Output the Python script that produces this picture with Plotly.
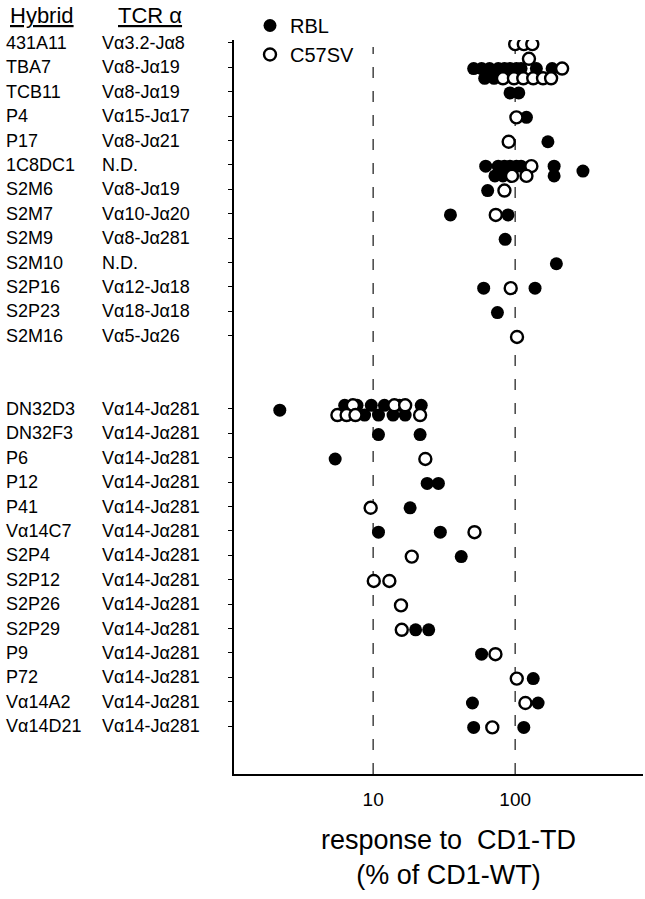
import plotly.graph_objects as go

# ---------------- data ----------------
HYBRIDS_TOP = ["431A11", "TBA7", "TCB11", "P4", "P17", "1C8DC1", "S2M6", "S2M7",
               "S2M9", "S2M10", "S2P16", "S2P23", "S2M16"]
TCR_TOP = ["Vα3.2-Jα8", "Vα8-Jα19", "Vα8-Jα19", "Vα15-Jα17", "Vα8-Jα21", "N.D.",
           "Vα8-Jα19", "Vα10-Jα20", "Vα8-Jα281", "N.D.", "Vα12-Jα18", "Vα18-Jα18",
           "Vα5-Jα26"]
HYBRIDS_BOTTOM = ["DN32D3", "DN32F3", "P6", "P12", "P41", "Vα14C7", "S2P4", "S2P12",
                  "S2P26", "S2P29", "P9", "P72", "Vα14A2", "Vα14D21"]
TCR_BOTTOM = ["Vα14-Jα281"] * 14

# (hybrid, response % of CD1-WT, lane within row: -1 upper ... +1 lower)
RBL = [
    ("TBA7", 51, 0), ("TBA7", 58, 0), ("TBA7", 66, 0), ("TBA7", 76, 0), ("TBA7", 84, 0),
    ("TBA7", 92, 0), ("TBA7", 102, 0), ("TBA7", 110, 0), ("TBA7", 141, 0), ("TBA7", 182, 0),
    ("TBA7", 61, 1), ("TBA7", 71, 1),
    ("TCB11", 92, 0), ("TCB11", 106, 0),
    ("P4", 120, 0),
    ("P17", 170, 0),
    ("1C8DC1", 62, 0), ("1C8DC1", 76, 0), ("1C8DC1", 84, 0), ("1C8DC1", 92, 0),
    ("1C8DC1", 102, 0), ("1C8DC1", 110, 0), ("1C8DC1", 188, 0), ("1C8DC1", 300, 0.5),
    ("1C8DC1", 72, 1), ("1C8DC1", 82, 1), ("1C8DC1", 188, 1),
    ("S2M6", 64, 0),
    ("S2M7", 35, 0), ("S2M7", 89, 0),
    ("S2M9", 85, 0),
    ("S2M10", 195, 0),
    ("S2P16", 60, 0), ("S2P16", 138, 0),
    ("S2P23", 75, 0),
    ("DN32D3", 2.2, 0),
    ("DN32D3", 6.3, -0.5), ("DN32D3", 7.7, -0.5), ("DN32D3", 9.7, -0.5), ("DN32D3", 12.0, -0.5),
    ("DN32D3", 15.3, -0.5), ("DN32D3", 21.8, -0.5),
    ("DN32D3", 8.7, 0.5), ("DN32D3", 10.9, 0.5), ("DN32D3", 13.8, 0.5), ("DN32D3", 16.8, 0.5),
    ("DN32F3", 10.9, 0), ("DN32F3", 21.4, 0),
    ("P6", 5.4, 0),
    ("P12", 24, 0), ("P12", 28.8, 0),
    ("P41", 18.2, 0),
    ("Vα14C7", 10.9, 0), ("Vα14C7", 29.7, 0),
    ("S2P4", 41.7, 0),
    ("S2P29", 19.9, 0), ("S2P29", 24.6, 0),
    ("P9", 58, 0),
    ("P72", 134, 0),
    ("Vα14A2", 50, 0), ("Vα14A2", 145, 0),
    ("Vα14D21", 51, 0), ("Vα14D21", 115, 0),
]

C57SV = [
    ("431A11", 100, 0), ("431A11", 115, 0), ("431A11", 132, 0),
    ("TBA7", 125, -1), ("TBA7", 214, 0),
    ("TBA7", 82, 1), ("TBA7", 98, 1), ("TBA7", 114, 1), ("TBA7", 134, 1),
    ("TBA7", 157, 1), ("TBA7", 179, 1),
    ("P4", 102, 0),
    ("P17", 90, 0),
    ("1C8DC1", 130, 0), ("1C8DC1", 95, 1), ("1C8DC1", 120, 1),
    ("S2M6", 84, 0),
    ("S2M7", 73, 0),
    ("S2P16", 93, 0),
    ("S2M16", 103, 0),
    ("DN32D3", 7.2, -0.5), ("DN32D3", 14.1, -0.5), ("DN32D3", 16.8, -0.5),
    ("DN32D3", 5.6, 0.5), ("DN32D3", 6.5, 0.5), ("DN32D3", 7.5, 0.5), ("DN32D3", 21.4, 0.5),
    ("P6", 23.3, 0),
    ("P41", 9.6, 0),
    ("Vα14C7", 51.7, 0),
    ("S2P4", 18.7, 0),
    ("S2P12", 10.1, 0), ("S2P12", 13.0, 0),
    ("S2P26", 15.7, 0),
    ("S2P29", 15.9, 0),
    ("P9", 72.6, 0),
    ("P72", 102.6, 0),
    ("Vα14A2", 118, 0),
    ("Vα14D21", 69, 0),
]

REF_LINES = [10, 100]
X_TICKS = [10, 100]

# ---------------- layout helpers ----------------
GAP_ROWS = 2
ROW = {}
for i, h in enumerate(HYBRIDS_TOP):
    ROW[h] = i
for i, h in enumerate(HYBRIDS_BOTTOM):
    ROW[h] = len(HYBRIDS_TOP) + GAP_ROWS + i
ALL_H = HYBRIDS_TOP + HYBRIDS_BOTTOM
ALL_T = TCR_TOP + TCR_BOTTOM

BASE_OFF, LANE_STEP = 0.05, 0.4


def ypos(pts):
    return [ROW[h] + BASE_OFF + lane * LANE_STEP for h, v, lane in pts]


def xval(pts):
    return [v for h, v, lane in pts]


W, H = 645, 899
ML, MR, MT, MB = 234, 2, 40, 125
PW = W - ML - MR
PH = H - MT - MB


def px2paper_x(px):
    return (px - ML) / PW


def px2paper_y(py):
    return (H - MB - py) / PH


FONT = "Liberation Sans, Arial, Helvetica, sans-serif"

fig = go.Figure()
fig.add_trace(go.Scatter(
    x=xval(RBL), y=ypos(RBL), mode="markers", name="RBL",
    marker=dict(size=13, color="black", line=dict(width=0)),
))
fig.add_trace(go.Scatter(
    x=xval(C57SV), y=ypos(C57SV), mode="markers", name="C57SV",
    marker=dict(size=12, color="white", line=dict(width=2.4, color="black")),
))

for xv in REF_LINES:
    fig.add_shape(type="line", xref="x", yref="paper", x0=xv, x1=xv,
                  y0=0, y1=px2paper_y(47), layer="below",
                  line=dict(color="#444", width=1.5, dash="11px,13px"))

annotations = []
for h in ALL_H:
    annotations.append(dict(text=h, xref="paper", yref="y", x=px2paper_x(4), y=ROW[h],
                            xanchor="left", yanchor="middle", showarrow=False,
                            font=dict(size=18, color="black", family=FONT)))
for h, t in zip(ALL_H, ALL_T):
    annotations.append(dict(text=t, xref="paper", yref="y", x=px2paper_x(100), y=ROW[h],
                            xanchor="left", yanchor="middle", showarrow=False,
                            font=dict(size=18, color="black", family=FONT)))
annotations.append(dict(text="<u>Hybrid</u>", xref="paper", yref="paper",
                        x=px2paper_x(8), y=px2paper_y(15), xanchor="left", yanchor="middle",
                        showarrow=False, font=dict(size=22, color="black", family=FONT)))
annotations.append(dict(text="<u>TCR α</u>", xref="paper", yref="paper",
                        x=px2paper_x(116), y=px2paper_y(15), xanchor="left", yanchor="middle",
                        showarrow=False, font=dict(size=22, color="black", family=FONT)))
annotations.append(dict(text="response to  CD1-TD<br>(% of CD1-WT)", xref="paper", yref="paper",
                        x=px2paper_x(448), y=px2paper_y(858), xanchor="center", yanchor="middle",
                        showarrow=False, align="center",
                        font=dict(size=27, color="black", family=FONT)))

n_rows = len(HYBRIDS_TOP) + GAP_ROWS + len(HYBRIDS_BOTTOM)
yrange = [n_rows + 0.96, -0.12]
tickrows = [ROW[h] for h in ALL_H]

fig.update_layout(
    width=W, height=H,
    margin=dict(l=ML, r=MR, t=MT, b=MB),
    paper_bgcolor="white", plot_bgcolor="white",
    font=dict(family=FONT, color="black"),
    showlegend=True,
    legend=dict(x=px2paper_x(250), y=px2paper_y(6), xanchor="left", yanchor="top",
                font=dict(size=20, family=FONT), bgcolor="rgba(0,0,0,0)",
                itemsizing="trace", tracegroupgap=0),
    annotations=annotations,
    xaxis=dict(type="log", range=[0.02, 2.9], tickvals=X_TICKS, ticktext=["10", "100"],
               showgrid=False, zeroline=False, showline=True, linecolor="black", linewidth=2,
               ticks="", ticklabelstandoff=7, tickfont=dict(size=19, family=FONT, color="black")),
    yaxis=dict(range=yrange, tickvals=tickrows, showticklabels=False, ticks="outside",
               ticklen=4, tickwidth=1, tickcolor="black",
               showgrid=False, zeroline=False, showline=True, linecolor="black", linewidth=1.5),
    yaxis2=dict(range=yrange, overlaying="y", side="left", tickvals=tickrows,
                showticklabels=False, ticks="inside", ticklen=5, tickwidth=1, tickcolor="black",
                showgrid=False, zeroline=False, showline=False),
)

fig.write_html("out.html", config={"displayModeBar": False},
               post_script="document.body.style.margin='0';")
